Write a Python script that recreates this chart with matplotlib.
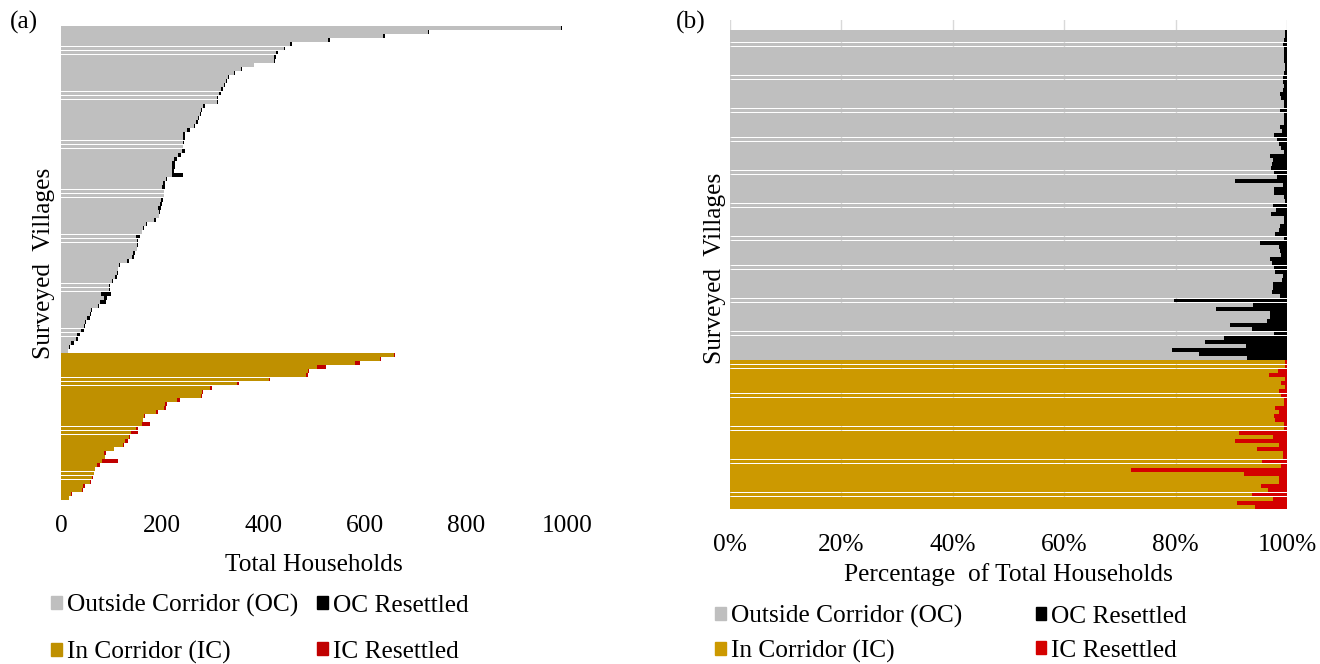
import numpy as np
import matplotlib
matplotlib.use("Agg")
import matplotlib.pyplot as plt
from matplotlib.patches import Patch

# ---------------- data ----------------
# Outside-corridor villages, top to bottom: total households
oc_total = [991, 727, 640, 532, 456, 443, 428, 424, 422, 382,
            358, 344, 332, 328, 324, 320, 316, 311, 310, 285,
            278, 276, 273, 270, 265, 255, 246, 245, 244, 242,
            246, 238, 229, 226, 225, 224, 242, 209, 206, 205,
            204, 204, 202, 200, 197, 195, 194, 187, 170, 165,
            160, 156, 153, 152, 151, 147, 145, 134, 117, 113,
            112, 110, 103, 97, 96, 98, 90, 88, 75, 62,
            60, 57, 50, 47, 45, 38, 33, 25, 18, 14]
# share of those households resettled (%)
oc_resettled_pct = [0.3, 0.3, 0.6, 0.7, 0.6, 0.5, 0.5, 0.5, 0.4, 0.4,
                    0.6, 0.8, 0.8, 0.6, 0.7, 1.2, 1.0, 0.6, 0.6, 1.2,
                    0.5, 0.5, 0.6, 1.3, 0.9, 2.3, 1.8, 1.5, 1.0, 0.6,
                    3.1, 2.5, 2.7, 2.9, 2.4, 1.8, 9.3, 0.8, 2.3, 2.3,
                    0.5, 0.3, 2.5, 1.9, 2.9, 0.5, 0.6, 1.2, 1.5, 2.1,
                    0.5, 4.8, 1.5, 1.2, 1.0, 3.1, 2.7, 2.3, 2.1, 0.7,
                    0.9, 2.5, 2.5, 2.7, 1.2, 20.3, 6.1, 12.8, 3.0, 3.1,
                    3.6, 10.2, 6.3, 2.4, 11.3, 14.7, 7.4, 20.7, 15.8, 7.1]
# In-corridor villages, top to bottom
ic_total = [660, 632, 591, 523, 491, 489, 413, 352, 298, 281,
            279, 235, 209, 208, 192, 166, 163, 175, 153, 152,
            136, 133, 124, 105, 89, 87, 113, 77, 68, 66,
            64, 59, 47, 43, 21, 16]
ic_resettled_pct = [0.4, 0.3, 1.7, 3.3, 0.4, 1.0, 0.3, 1.4, 1.0, 0.6,
                    0.6, 2.1, 1.4, 2.3, 2.1, 0.6, 0.6, 8.7, 2.5, 9.4,
                    1.4, 5.3, 0.8, 0.8, 4.5, 1.0, 28.0, 7.7, 1.5, 1.5,
                    4.6, 3.4, 6.2, 2.6, 9.0, 5.7]

left_ticks = [0, 200, 400, 600, 800, 1000]
right_ticks = [0, 20, 40, 60, 80, 100]
right_ticklabels = ["0%", "20%", "40%", "60%", "80%", "100%"]
legend_labels = ["Outside Corridor (OC)", "In Corridor (IC)",
                 "OC Resettled", "IC Resettled"]

# ---------------- style ----------------
plt.rcParams['font.family'] = ['Liberation Serif', 'DejaVu Serif']
FS = 18.3
GREY = "#BFBFBF"
GOLD_A = "#BF9000"
RED_A = "#C00000"
GOLD_B = "#CC9900"
RED_B = "#D40000"
BAR_H = 0.94

W, H = 1320, 664
fig = plt.figure(figsize=(W / 100, H / 100), dpi=100)


def rect(x0, x1, ytop, ybot):
    return [x0 / W, 1 - ybot / H, (x1 - x0) / W, (ybot - ytop) / H]


oc_t = np.array(oc_total, float)
ic_t = np.array(ic_total, float)
oc_p = np.array(oc_resettled_pct, float)
ic_p = np.array(ic_resettled_pct, float)
oc_r = oc_t * oc_p / 100
ic_r = ic_t * ic_p / 100
n_oc, n_ic = len(oc_t), len(ic_t)
N = n_oc + n_ic
y_oc = np.arange(n_oc)
y_ic = np.arange(n_oc, N)

bar_kw = dict(height=BAR_H, linewidth=0, antialiased=False)

# ---------------- panel (a) ----------------
axa = fig.add_axes(rect(61, 567, 26, 500))
axa.barh(y_oc, oc_t - oc_r, color=GREY, **bar_kw)
axa.barh(y_oc, oc_r, left=oc_t - oc_r, color="black", **bar_kw)
axa.barh(y_ic, ic_t - ic_r, color=GOLD_A, **bar_kw)
axa.barh(y_ic, ic_r, left=ic_t - ic_r, color=RED_A, **bar_kw)
axa.set_xlim(0, 1000)
axa.set_ylim(N - 0.5, -0.5)
axa.set_xticks(left_ticks)
axa.set_xticklabels([str(t) for t in left_ticks])
axa.set_yticks([])
axa.tick_params(axis='x', length=0, pad=10.5, labelsize=FS)
for s in axa.spines.values():
    s.set_visible(False)
axa.set_xlabel("Total Households", fontsize=FS)
axa.xaxis.label.set_va('center')
axa.xaxis.set_label_coords(0.5, -(565 - 500) / 474)
axa.set_ylabel("Surveyed  Villages", fontsize=FS)
axa.yaxis.label.set_va('center')
axa.yaxis.set_label_coords((44 - 61) / 506, (500 - 263) / 474)

# ---------------- panel (b) ----------------
top_pad = 10 / 4.12
axb = fig.add_axes(rect(730, 1287, 20, 509))
axb.set_axisbelow(True)
axb.grid(axis='x', color="#D9D9D9", linewidth=1)
axb.barh(y_oc, 100 - oc_p, color=GREY, **bar_kw)
axb.barh(y_oc, oc_p, left=100 - oc_p, color="black", **bar_kw)
axb.barh(y_ic, 100 - ic_p, color=GOLD_B, **bar_kw)
axb.barh(y_ic, ic_p, left=100 - ic_p, color=RED_B, **bar_kw)
axb.set_xlim(0, 100)
axb.set_ylim(N - 0.5, -0.5 - top_pad)
axb.set_xticks(right_ticks)
axb.set_xticklabels(right_ticklabels)
axb.set_yticks([])
axb.tick_params(axis='x', length=0, pad=18, labelsize=FS)
for s in axb.spines.values():
    s.set_visible(False)
axb.set_xlabel("Percentage  of Total Households", fontsize=FS)
axb.xaxis.label.set_va('center')
axb.xaxis.set_label_coords(0.5, -(575 - 509) / 489)
axb.set_ylabel("Surveyed  Villages", fontsize=FS)
axb.yaxis.label.set_va('center')
axb.yaxis.set_label_coords((715 - 730) / 557, (509 - 268) / 489)

# panel letters
fig.text(10 / W, 1 - 22 / H, "(a)", fontsize=FS, va='center', ha='left')
fig.text(676 / W, 1 - 22 / H, "(b)", fontsize=FS, va='center', ha='left')

# ---------------- legends ----------------
hand_a = [Patch(color=GREY), Patch(color=GOLD_A), Patch(color="black"), Patch(color=RED_A)]
fig.legend(hand_a, legend_labels, ncol=2, loc='upper left',
           bbox_to_anchor=(51 / W, 1 - 594 / H), frameon=False, fontsize=FS,
           handlelength=0.42, handleheight=0.42, handletextpad=0.2,
           columnspacing=0.75, labelspacing=0.95, borderpad=0, borderaxespad=0)

hand_b = [Patch(color=GREY), Patch(color=GOLD_B), Patch(color="black"), Patch(color=RED_B)]
fig.legend(hand_b, legend_labels, ncol=2, loc='upper left',
           bbox_to_anchor=(715 / W, 1 - 605 / H), frameon=False, fontsize=FS,
           handlelength=0.42, handleheight=0.42, handletextpad=0.2,
           columnspacing=2.9, labelspacing=0.48, borderpad=0, borderaxespad=0)

fig.savefig("out.png", dpi=100)
